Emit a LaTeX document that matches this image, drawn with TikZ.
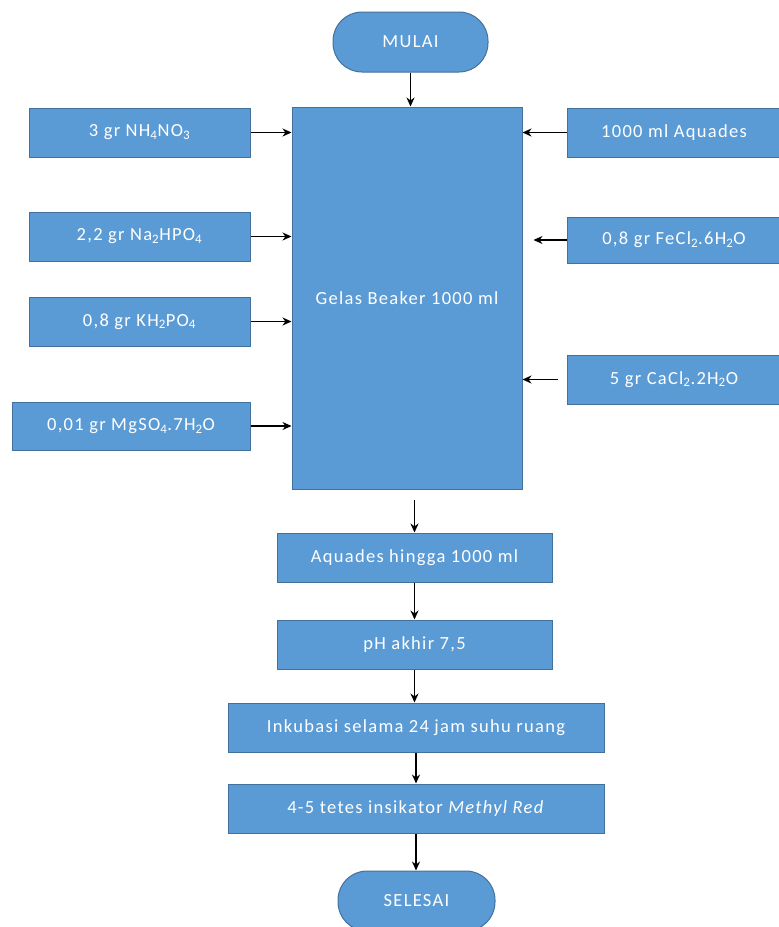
\documentclass[tikz,border=0pt]{standalone}
\usepackage{fontspec}
\setmainfont{Carlito}[LetterSpace=7]
\usetikzlibrary{arrows.meta}
\definecolor{boxblue}{HTML}{5B9BD5}
\definecolor{boxline}{HTML}{41719C}

\begin{document}
\begin{tikzpicture}[x=1pt, y=-1pt,
    every node/.style={font=\fontsize{18.5}{22}\selectfont, text=white},
    box/.style={draw=boxline, fill=boxblue, line width=1pt, inner sep=0pt,
        minimum height=49pt},
    term/.style={box, rounded corners=29pt, minimum height=60pt},
    arr/.style={-{Stealth[length=9pt,width=8pt]}, line width=1.4pt}]
    \useasboundingbox (0,0) rectangle (779,927);
    % start and main beaker
    \node[term, minimum width=155pt] (mulai) at (410.5,42) {MULAI};
    \node[box, minimum width=230pt, minimum height=382pt] (beaker) at (407,298)
        {Gelas Beaker 1000 ml};
    % ingredients on the left
    \node[box, minimum width=221pt] (nh) at (139.5,132.5) {3 gr NH\textsubscript{4}NO\textsubscript{3}};
    \node[box, minimum width=221pt] (na) at (139.5,236.5) {2,2 gr Na\textsubscript{2}HPO\textsubscript{4}};
    \node[box, minimum width=221pt] (kh) at (139.5,321.5) {0,8 gr KH\textsubscript{2}PO\textsubscript{4}};
    \node[box, minimum width=238pt, minimum height=48pt] (mg) at (131,426)
        {0,01 gr MgSO\textsubscript{4}.7H\textsubscript{2}O};
    % ingredients on the right
    \node[box, minimum width=214pt] (aqd) at (674,132.5) {1000 ml Aquades};
    \node[box, minimum width=214pt, minimum height=46pt] (fe) at (674,240)
        {0,8 gr FeCl\textsubscript{2}.6H\textsubscript{2}O};
    \node[box, minimum width=214pt] (ca) at (674,379.5) {5 gr CaCl\textsubscript{2}.2H\textsubscript{2}O};
    % steps below
    \node[box, minimum width=275pt] (aqh) at (414.5,557.5) {Aquades hingga 1000 ml};
    \node[box, minimum width=275pt] (ph) at (414.5,644.5) {pH akhir 7,5};
    \node[box, minimum width=376pt] (ink) at (416,727.5) {Inkubasi selama 24 jam suhu ruang};
    \node[box, minimum width=376pt] (mr) at (416,808.5)
        {4-5 tetes insikator \textit{Methyl Red}};
    \node[term, minimum width=157pt] (selesai) at (416.5,901) {SELESAI};

    \draw[arr] (mulai.south) -- (mulai.south |- beaker.north);
    \foreach \n in {nh,na,kh,mg} {
        \draw[arr] (\n.east) -- (\n.east -| beaker.west);
    }
    \draw[arr] (aqd.west) -- (aqd.west -| beaker.east);
    \draw[arr, shorten >=11pt] (fe.west) -- (fe.west -| beaker.east);
    \draw[arr, shorten <=9pt] (ca.west) -- (ca.west -| beaker.east);
    \draw[arr, shorten <=10pt] (beaker.south -| aqh.north) -- (aqh.north);
    \draw[arr] (aqh.south) -- (aqh.south |- ph.north);
    \draw[arr] (ph.south) -- (ph.south |- ink.north);
    \draw[arr] (ink.south) -- (ink.south |- mr.north);
    \draw[arr] (mr.south) -- (mr.south |- selesai.north);
\end{tikzpicture}
\end{document}
